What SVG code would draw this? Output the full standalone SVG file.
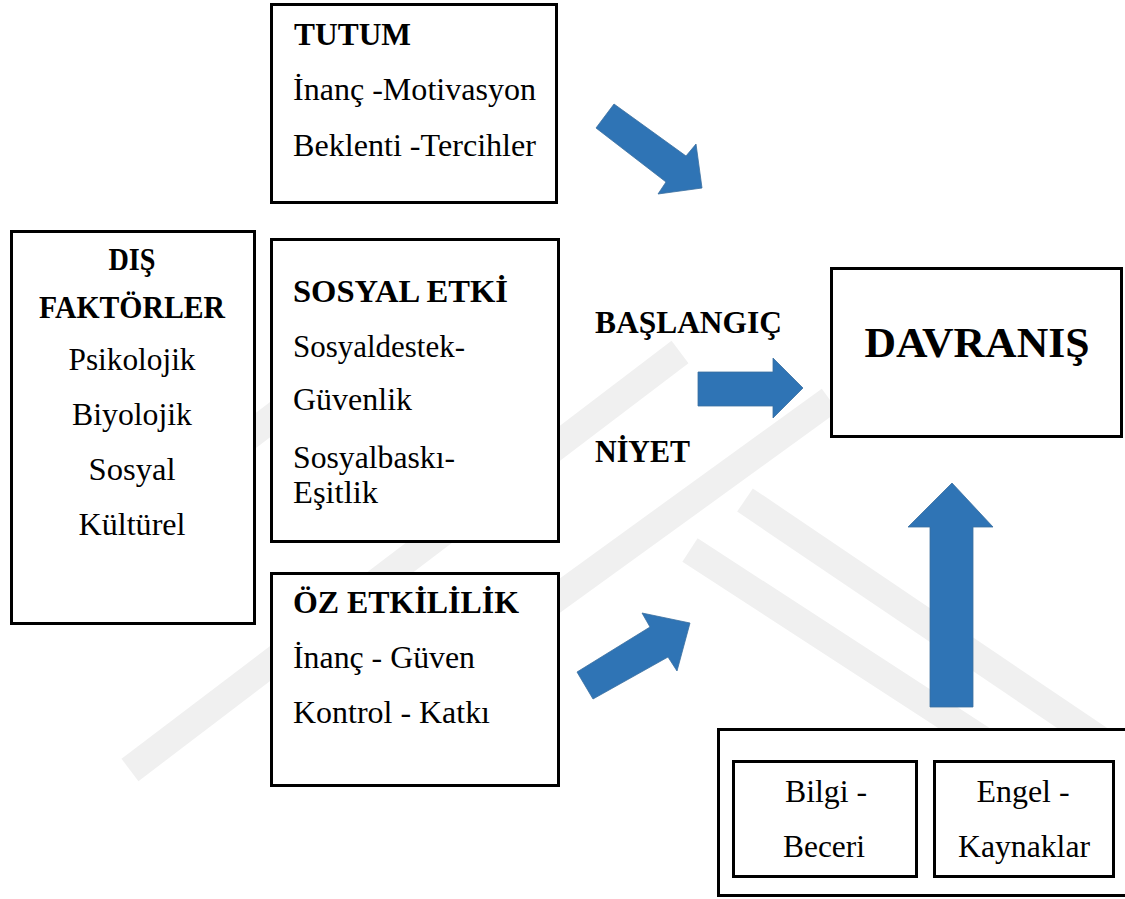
<svg xmlns="http://www.w3.org/2000/svg" width="1125" height="899" viewBox="0 0 1125 899">
<style>
text{font-family:'Liberation Serif','Times New Roman',serif;font-size:32px;fill:#000000}
.box{fill:#ffffff;stroke:#000000;stroke-width:3}
.b{font-weight:bold}
.m{text-anchor:middle}
.arrow{fill:#2F74B5;stroke:#3A6FA0;stroke-width:0.8}
.wm{stroke:#f0f0f0;stroke-width:28;fill:none;stroke-linecap:butt}
</style>
<rect x="0" y="0" width="1125" height="899" fill="#ffffff"/>
<g id="watermark">
<line class="wm" x1="200" y1="473" x2="330" y2="374"/>
<line class="wm" x1="130" y1="770" x2="680" y2="352"/>
<line class="wm" x1="540" y1="610" x2="830" y2="400"/>
<line class="wm" x1="690" y1="550" x2="1010" y2="758"/>
<line class="wm" x1="745" y1="500" x2="1125" y2="757"/>
</g>
<g id="tutum">
<rect class="box" x="271.5" y="4.5" width="285" height="198"/>
<text class="b" x="294" y="45" textLength="117" lengthAdjust="spacingAndGlyphs">TUTUM</text>
<text x="293" y="100" textLength="243" lengthAdjust="spacingAndGlyphs">İnanç -Motivasyon</text>
<text x="293" y="156" textLength="243" lengthAdjust="spacingAndGlyphs">Beklenti -Tercihler</text>
</g>
<g id="dis-faktorler">
<rect class="box" x="11.5" y="231.5" width="243" height="392"/>
<text class="b m" x="132" y="270" textLength="47" lengthAdjust="spacingAndGlyphs">DIŞ</text>
<text class="b m" x="132" y="318" textLength="186" lengthAdjust="spacingAndGlyphs">FAKTÖRLER</text>
<text class="m" x="132" y="370" textLength="127" lengthAdjust="spacingAndGlyphs">Psikolojik</text>
<text class="m" x="132" y="425" textLength="120" lengthAdjust="spacingAndGlyphs">Biyolojik</text>
<text class="m" x="132" y="480" textLength="87" lengthAdjust="spacingAndGlyphs">Sosyal</text>
<text class="m" x="132" y="535" textLength="107" lengthAdjust="spacingAndGlyphs">Kültürel</text>
</g>
<g id="sosyal-etki">
<rect class="box" x="271.5" y="239.5" width="287" height="302"/>
<text class="b" x="293" y="302" textLength="215" lengthAdjust="spacingAndGlyphs">SOSYAL ETKİ</text>
<text x="293" y="357" textLength="172" lengthAdjust="spacingAndGlyphs">Sosyaldestek-</text>
<text x="293" y="410" textLength="119" lengthAdjust="spacingAndGlyphs">Güvenlik</text>
<text x="293" y="468" textLength="162" lengthAdjust="spacingAndGlyphs">Sosyalbaskı-</text>
<text x="293" y="503" textLength="85" lengthAdjust="spacingAndGlyphs">Eşitlik</text>
</g>
<g id="oz-etkililik">
<rect class="box" x="271.5" y="573.5" width="287" height="212"/>
<text class="b" x="293" y="613" textLength="226" lengthAdjust="spacingAndGlyphs">ÖZ ETKİLİLİK</text>
<text x="293" y="668" textLength="182" lengthAdjust="spacingAndGlyphs">İnanç - Güven</text>
<text x="293" y="723" textLength="197" lengthAdjust="spacingAndGlyphs">Kontrol - Katkı</text>
</g>
<g id="baslangic-niyet">
<text class="b" x="595" y="333" textLength="187" lengthAdjust="spacingAndGlyphs">BAŞLANGIÇ</text>
<text class="b" x="595" y="462" textLength="95" lengthAdjust="spacingAndGlyphs">NİYET</text>
</g>
<g id="davranis">
<rect class="box" x="831.5" y="268.5" width="290" height="168"/>
<text class="b m" x="977" y="357" style="font-size:42px" textLength="225" lengthAdjust="spacingAndGlyphs">DAVRANIŞ</text>
</g>
<g id="kaynaklar-grup">
<rect class="box" x="718.5" y="729.5" width="420" height="166"/>
<g id="bilgi-beceri">
<rect class="box" x="733.5" y="761.5" width="183" height="115"/>
<text class="m" x="826" y="802" textLength="82" lengthAdjust="spacingAndGlyphs">Bilgi -</text>
<text class="m" x="824" y="857" textLength="82" lengthAdjust="spacingAndGlyphs">Beceri</text>
</g>
<g id="engel-kaynaklar">
<rect class="box" x="934.5" y="761.5" width="179" height="115"/>
<text class="m" x="1023" y="802" textLength="93" lengthAdjust="spacingAndGlyphs">Engel -</text>
<text class="m" x="1024" y="857" textLength="132" lengthAdjust="spacingAndGlyphs">Kaynaklar</text>
</g>
</g>
<g id="connectors">
<polygon class="arrow" points="614,104 686,156 696,144 702,188 658,194 666,182 596,128"/>
<polygon class="arrow" points="698,372 773,372 773,358 803,388 773,418 773,406 698,406"/>
<polygon class="arrow" points="577,672 650,627 642,613 690,623 677,671 668,657 593,699"/>
<polygon class="arrow" points="930,707 930,527 908,527 952,483 993,527 973,527 973,707"/>
</g>
</svg>
